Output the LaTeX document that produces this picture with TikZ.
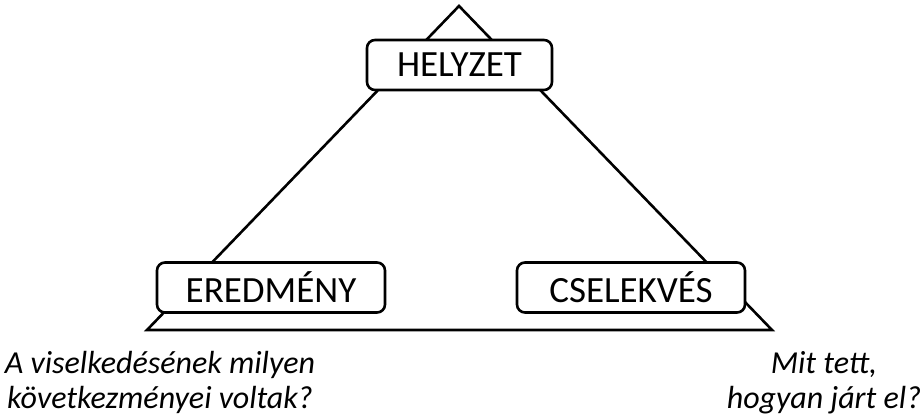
\documentclass[tikz,border=0pt]{standalone}
\usepackage{fontspec}
\setmainfont{Carlito}
\begin{document}
\begin{tikzpicture}[x=1pt,y=-1pt,
  label box/.style={draw=black,line width=2.6pt,fill=white,rounded corners=8pt,
    minimum width=#1,minimum height=50pt,inner sep=0pt,
    font=\fontsize{37}{42}\selectfont},
  question/.style={anchor=base,inner sep=0pt,font=\fontsize{32}{35}\selectfont\itshape}]
\useasboundingbox (0,0) rectangle (923,419);
% the triangle behind the labels
\coordinate (apex) at (459,6);
\coordinate (bl) at (147,330);
\coordinate (br) at (772,330);
\draw[line width=2.6pt,line join=miter] (apex) -- (br) -- (bl) -- cycle;
% labels on the corners
\node[label box=185pt] (helyzet) at (459.5,65) {HELYZET};
\node[label box=228pt] (eredmeny) at (271,287.5) {EREDMÉNY};
\node[label box=228pt] (cselekves) at (631,287.5) {CSELEKVÉS};
% questions under the base
\node[question] (q1a) at (160,373) {A viselkedésének milyen};
\node[question] (q1b) at (160,408) {következményei voltak?};
\node[question] (q2a) at (824,373) {Mit tett,};
\node[question] (q2b) at (824,408) {hogyan járt el?};
\end{tikzpicture}
\end{document}
